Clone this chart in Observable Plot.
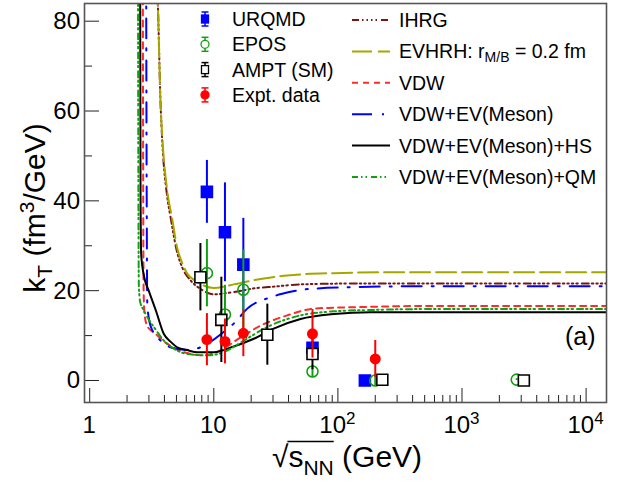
<!DOCTYPE html>
<html><head><meta charset="utf-8">
<script src="https://cdn.jsdelivr.net/npm/d3@7"></script>
<script src="https://cdn.jsdelivr.net/npm/@observablehq/plot@0.6"></script>
<style>body{margin:0;background:#fff;}</style>
</head><body><div id="chart"></div>
<script>
// ---------- data ----------
const urqmdX = [8.8, 12.3, 17.3, 62.4, 165];
const urqmdY = [42.0, 33.0, 25.8, 7.3, 0.0];
const urqmdErr = [7.0, 11.0, 10.3, 1.0, 0.3];

const eposX = [8.8, 12.3, 17.3, 62.4, 200, 2760];
const eposY = [23.9, 14.7, 20.2, 2.0, 0.0, 0.2];
const eposErr = [7.5, 6.5, 8.9, 1.3, 1.3, 0.2];

const amptX = [7.8, 11.5, 27, 62.4, 228, 3150];
const amptY = [23.0, 13.5, 10.2, 5.9, 0.15, 0.0];
const amptErr = [7.5, 9.5, 6.8, 3.5, 0.3, 0.2];

const exptX = [8.8, 12.3, 17.3, 62.4, 200];
const exptY = [9.1, 8.7, 10.5, 10.4, 4.8];
const exptErr = [5.8, 5.0, 5.2, 5.4, 4.1];

const ihrgX = [3.50, 3.54, 3.72, 3.84, 4.21, 4.48, 5.07, 5.56, 6.49, 7.81, 10, 14.5, 22.4, 30.4, 50, 150, 15000];
const ihrgY = [88, 84, 62, 53.5, 41, 36.4, 28.5, 25.2, 22.3, 20.4, 19.2, 19.7, 20.6, 20.9, 21.4, 21.6, 21.6];

const evhrhX = [3.50, 3.54, 3.72, 3.86, 4.21, 4.62, 5.07, 5.5, 6.11, 7.0, 7.81, 10, 14.5, 23.8, 39, 93, 300, 15000];
const evhrhY = [88, 84, 62, 53.5, 42.3, 36, 29.5, 26.5, 23.8, 22.3, 21.5, 20.6, 21.4, 22.6, 23.4, 23.9, 24.1, 24.1];

const vdwX = [2.68, 2.70, 2.72, 2.76, 2.9, 3.39, 4.21, 5.73, 8.3, 11.3, 16.4, 23.8, 39, 64, 93, 183, 500, 15000];
const vdwY = [90, 40, 20, 15, 12.2, 10.4, 8.2, 6.3, 5.6, 6.7, 9.6, 12.2, 14.5, 16.0, 16.2, 16.4, 16.6, 16.6];

const vdwEvX = [2.85, 2.88, 2.91, 3.0, 3.09, 3.72, 4.48, 5.5, 6.5, 7.8, 8.9, 12.4, 14.9, 18.6, 28.5, 35.6, 60, 150, 500, 15000];
const vdwEvY = [90, 40, 17, 13.8, 12.2, 8.9, 7.4, 6.9, 6.8, 7.4, 8.2, 11.1, 13.0, 16.0, 18.5, 19.3, 20.4, 20.8, 21.0, 21.0];

const hsX = [2.55, 2.57, 2.60, 2.75, 2.99, 3.45, 3.95, 4.5, 5.07, 6.2, 7.35, 10, 14.5, 21, 30, 50, 93, 183, 500, 15000];
const hsY = [90, 40, 28, 23, 20, 15.2, 10.4, 8.6, 7.4, 6.7, 6.3, 6.3, 7.6, 9.3, 11.5, 13.7, 14.8, 15.2, 15.2, 15.2];

const qmX = [2.45, 2.47, 2.49, 2.55, 2.73, 3.0, 3.29, 3.95, 4.76, 6.1, 8.9, 12, 17.5, 26.9, 50, 93, 183, 500, 15000];
const qmY = [90, 40, 21, 17.5, 15.6, 13.5, 11.9, 8.9, 7.1, 5.9, 5.6, 6.3, 8.9, 11.9, 14.5, 15.4, 15.7, 15.9, 15.9];

const yMajor = [0, 20, 40, 60, 80];
const yMinor = [10, 30, 50, 70];
const xMajor = [1, 10, 100, 1000, 10000];
const xMinorMult = [2, 3, 4, 5, 6, 7, 8, 9];
const xLabels = [{v: 1, b: "1", e: ""}, {v: 10, b: "10", e: ""}, {v: 100, b: "10", e: "2"}, {v: 1000, b: "10", e: "3"}, {v: 10000, b: "10", e: "4"}];

// ---------- styles ----------
const C = {urqmd: "#0000ff", epos: "#12a012", ampt: "#000000", expt: "#ff0000",
  ihrg: "#7a1515", evhrh: "#a6a600", vdw: "#ff2a2a", vdwEv: "#0000ff", hs: "#000000", qm: "#12a012"};
const DASH = {ihrg: "7,3,1.5,3,1.5,3,1.5,3,1.5,4", evhrh: "20,6", vdw: "6,5", vdwEv: "20,10,2,10", hs: null, qm: "6,3,1.5,3,1.5,4"};

const W = 631, H = 483, mL = 84, mR = 25, mT = 3, mB = 81;
const pW = W - mL - mR, pH = H - mT - mB;

const pts = (xs, ys, es) => xs.map((x, i) => ({x, y: ys[i], e: es ? es[i] : 0}));
const curve = (xs, ys) => xs.map((x, i) => ({x, y: ys[i]}));

const xMinor = [];
for (const m of xMajor) for (const k of xMinorMult) if (m * k < 14600) xMinor.push(m * k);

const curves = [
  ["ihrg", curve(ihrgX, ihrgY)], ["evhrh", curve(evhrhX, evhrhY)], ["vdw", curve(vdwX, vdwY)],
  ["vdwEv", curve(vdwEvX, vdwEvY)], ["hs", curve(hsX, hsY)], ["qm", curve(qmX, qmY)]
];

const marks = [];
for (const [k, d] of curves) {
  marks.push(Plot.line(d, {x: "x", y: "y", curve: "monotone-x", stroke: C[k], strokeWidth: 2,
    strokeDasharray: DASH[k], clip: true}));
}
const series = [
  [pts(urqmdX, urqmdY, urqmdErr), C.urqmd, "square", C.urqmd, C.urqmd, 6.2],
  [pts(eposX, eposY, eposErr), C.epos, "circle", "none", C.epos, 5.5],
  [pts(amptX, amptY, amptErr), C.ampt, "square", "white", C.ampt, 6.2],
  [pts(exptX, exptY, exptErr), C.expt, "circle", C.expt, "none", 5.5]
];
for (const [d, col, sym, fill, stroke, r] of series) {
  marks.push(Plot.ruleX(d, {x: "x", y1: v => v.y - v.e, y2: v => v.y + v.e, stroke: col, strokeWidth: 2, clip: true}));
  marks.push(Plot.dot(d, {x: "x", y: "y", symbol: sym, r, fill, stroke, strokeWidth: 1.6}));
}
// axis ticks (inward, ROOT style)
marks.push(Plot.tickX(xMajor, {x: d => d, insetTop: pH - 14, stroke: "#222", strokeWidth: 1}));
marks.push(Plot.tickX(xMinor, {x: d => d, insetTop: pH - 7, stroke: "#222", strokeWidth: 1}));
marks.push(Plot.tickY(yMajor, {y: d => d, insetRight: pW - 15, stroke: "#222", strokeWidth: 1}));
marks.push(Plot.tickY(yMinor, {y: d => d, insetRight: pW - 8, stroke: "#222", strokeWidth: 1}));
marks.push(Plot.frame({stroke: "#555", strokeWidth: 1.6}));

const chart = Plot.plot({
  width: W, height: H, marginLeft: mL, marginRight: mR, marginTop: mT, marginBottom: mB,
  x: {type: "log", domain: [0.908, 14600], axis: null},
  y: {domain: [-4.9, 83.94], axis: null},
  style: {fontFamily: "'Liberation Sans', Arial, sans-serif", background: "white"},
  marks
});
document.getElementById("chart").appendChild(chart);

// ---------- labels using the plot's scales ----------
const sx = chart.scale("x"), sy = chart.scale("y");
const svg = d3.select(chart);
const g = svg.append("g").attr("font-family", "'Liberation Sans', Arial, sans-serif").attr("fill", "black")
  .attr("text-anchor", "start");

for (const v of yMajor) {
  g.append("text").attr("x", 80).attr("y", sy.apply(v)).attr("text-anchor", "end")
    .attr("dominant-baseline", "central").attr("font-size", 24).text(v);
}
for (const L of xLabels) {
  const t = g.append("text").attr("x", sx.apply(L.v)).attr("y", 433).attr("text-anchor", "middle").attr("font-size", 24);
  t.append("tspan").text(L.b);
  if (L.e) t.append("tspan").attr("dy", -9).attr("font-size", 17).text(L.e);
}
// x title
const xt = g.append("text").attr("x", 347).attr("y", 467).attr("text-anchor", "middle").attr("font-size", 30);
xt.append("tspan").text("\u221A");
xt.append("tspan").text("s");
xt.append("tspan").attr("dy", 8).attr("font-size", 21).text("NN");
xt.append("tspan").attr("dy", -8).text(" (GeV)");
{
  const n = xt.node();
  const e0 = n.getExtentOfChar(0), e3 = n.getExtentOfChar(3);
  g.append("line").attr("x1", e0.x + e0.width - 1).attr("x2", e3.x + e3.width)
    .attr("y1", e0.y + 1.5).attr("y2", e0.y + 1.5).attr("stroke", "black").attr("stroke-width", 1.5);
}
// y title
const yt = g.append("text").attr("transform", "translate(45,208) rotate(-90)").attr("text-anchor", "middle").attr("font-size", 30);
yt.append("tspan").text("k");
yt.append("tspan").attr("dy", 7).attr("font-size", 21).text("T");
yt.append("tspan").attr("dy", -7).text(" (fm");
yt.append("tspan").attr("dy", -11).attr("font-size", 21).text("3");
yt.append("tspan").attr("dy", 11).text("/GeV)");
// panel label
g.append("text").attr("x", 565).attr("y", 345).attr("text-anchor", "start").attr("font-size", 25).text("(a)");

// ---------- legend ----------
const leftLeg = [["URQMD", "square", C.urqmd, C.urqmd], ["EPOS", "circle", "none", C.epos],
  ["AMPT (SM)", "square", "white", C.ampt], ["Expt. data", "circle", C.expt, C.expt]];
leftLeg.forEach(([lab, sym, fill, col], i) => {
  const y = 19 + i * 25.3, x = 205;
  g.append("line").attr("x1", x).attr("x2", x).attr("y1", y - 7).attr("y2", y + 7).attr("stroke", col).attr("stroke-width", 1.5);
  g.append("line").attr("x1", x - 3.5).attr("x2", x + 3.5).attr("y1", y - 7).attr("y2", y - 7).attr("stroke", col).attr("stroke-width", 1.5);
  g.append("line").attr("x1", x - 3.5).attr("x2", x + 3.5).attr("y1", y + 7).attr("y2", y + 7).attr("stroke", col).attr("stroke-width", 1.5);
  if (sym === "square") g.append("rect").attr("x", x - 3.5).attr("y", y - 4).attr("width", 7).attr("height", 8)
      .attr("fill", fill).attr("stroke", col).attr("stroke-width", 1.3);
  else g.append("circle").attr("cx", x).attr("cy", y).attr("r", 4).attr("fill", fill === "none" ? "white" : fill)
      .attr("stroke", col).attr("stroke-width", 1.3);
  g.append("text").attr("x", 232).attr("y", y).attr("text-anchor", "start").attr("dominant-baseline", "central")
    .attr("font-size", 19.5).text(lab);
});
const rightLeg = [["ihrg", "IHRG"], ["evhrh", null], ["vdw", "VDW"], ["vdwEv", "VDW+EV(Meson)"],
  ["hs", "VDW+EV(Meson)+HS"], ["qm", "VDW+EV(Meson)+QM"]];
rightLeg.forEach(([k, lab], i) => {
  const y = 20 + i * 31.4;
  g.append("line").attr("x1", 352).attr("x2", 390).attr("y1", y).attr("y2", y).attr("stroke", C[k])
    .attr("stroke-width", 2).attr("stroke-dasharray", DASH[k]);
  const t = g.append("text").attr("x", 399).attr("y", y).attr("text-anchor", "start")
    .attr("dominant-baseline", "central").attr("font-size", 19.5);
  if (lab) t.text(lab);
  else {
    t.append("tspan").text("EVHRH: r");
    t.append("tspan").attr("dy", 6).attr("font-size", 14).text("M/B");
    t.append("tspan").attr("dy", -6).text(" = 0.2 fm");
  }
});
</script></body></html>
